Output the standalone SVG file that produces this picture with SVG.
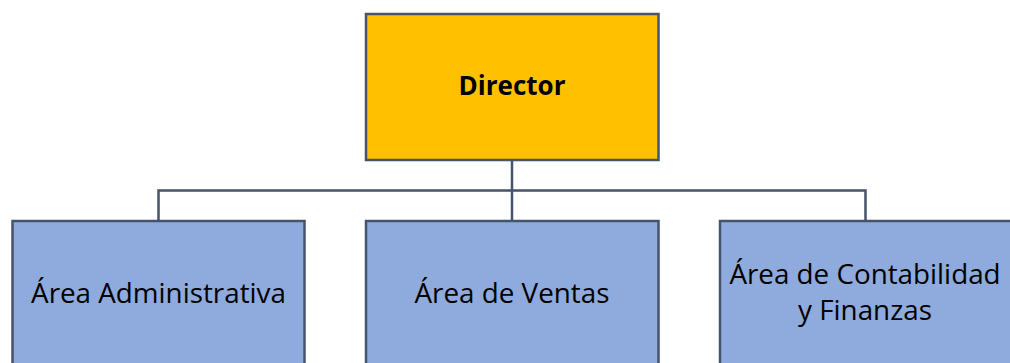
<svg xmlns="http://www.w3.org/2000/svg" width="1010" height="363" viewBox="0 0 1010 363">
<style>
.box{stroke:#44546A;stroke-width:2.5}
.top{fill:#FFC000}
.sub{fill:#8FAADC}
.conn{fill:none;stroke:#44546A;stroke-width:2.5}
text{font-family:"Open Sans","Liberation Sans",Arial,sans-serif;font-size:27.8px;fill:#000;text-anchor:middle}
.b{font-weight:bold;font-size:26px}
</style>
<rect width="1010" height="363" fill="#FFFFFF"/>
<g id="connectors">
<path class="conn" d="M512 160 V190.5 M158.5 221 V190.5 H865.5 V221 M512 190.5 V221"/>
</g>
<g id="director">
<rect class="box top" x="366" y="14" width="292.5" height="146"/>
<text class="b" x="512" y="95">Director</text>
</g>
<g id="area-administrativa">
<rect class="box sub" x="12.5" y="221" width="292" height="150"/>
<text x="158.5" y="303">Área Administrativa</text>
</g>
<g id="area-ventas">
<rect class="box sub" x="366" y="221" width="292.5" height="150"/>
<text x="512" y="303">Área de Ventas</text>
</g>
<g id="area-contabilidad">
<rect class="box sub" x="720" y="221" width="292" height="150"/>
<text x="865" y="284">Área de Contabilidad</text>
<text x="865" y="320">y Finanzas</text>
</g>
</svg>
